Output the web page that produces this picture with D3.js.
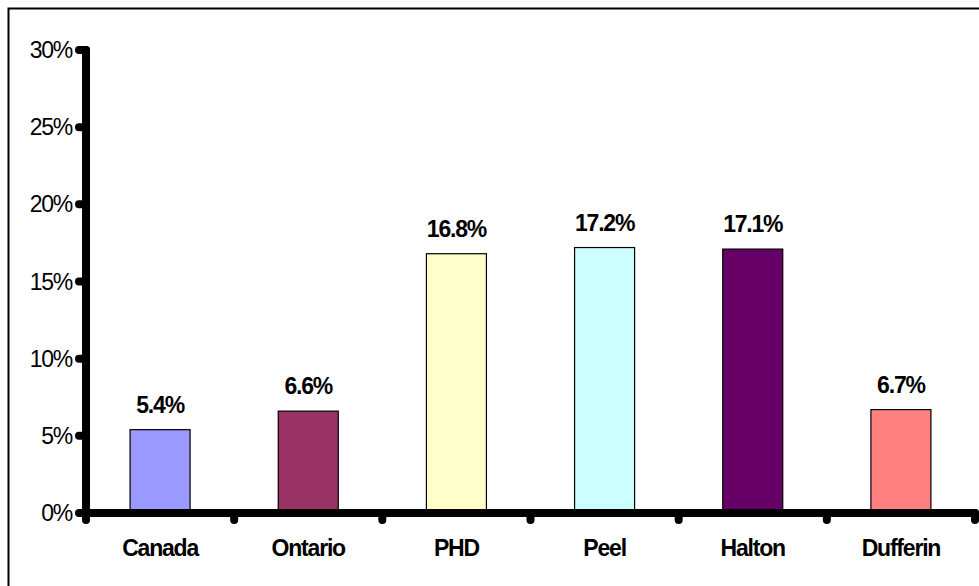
<!DOCTYPE html>
<html>
<head>
<meta charset="utf-8">
<script src="https://cdn.jsdelivr.net/npm/d3@7"></script>
<style>
  html, body { margin: 0; padding: 0; background: #fff; }
  svg { display: block; }
  text { font-family: Arial, "Liberation Sans", sans-serif; }
</style>
</head>
<body>
<svg id="chart" width="979" height="586"></svg>
<script>
const categories = ["Canada", "Ontario", "PHD", "Peel", "Halton", "Dufferin"];
const values = [0.054, 0.066, 0.168, 0.172, 0.171, 0.067];
const valueLabels = ["5.4%", "6.6%", "16.8%", "17.2%", "17.1%", "6.7%"];
const colors = ["#9999FF", "#993366", "#FFFFCC", "#CCFFFF", "#660066", "#FF8080"];
const yTicks = [0, 0.05, 0.10, 0.15, 0.20, 0.25, 0.30];

const svg = d3.select("#chart");

// outer frame
svg.append("rect")
  .attr("x", 8.5).attr("y", 8.5)
  .attr("width", 1200).attr("height", 1200)
  .attr("fill", "none").attr("stroke", "#000").attr("stroke-width", 2);

const x = d3.scaleBand().domain(categories).range([86, 975]).paddingInner(0).paddingOuter(0);
const y = d3.scaleLinear().domain([0, 0.30]).range([513, 50]);
const bw = x.bandwidth();
const barW = bw * 0.405;

// bars
svg.append("g").selectAll("rect")
  .data(categories)
  .join("rect")
  .attr("x", (d) => x(d) + (bw - barW) / 2)
  .attr("y", (d, i) => y(values[i]))
  .attr("width", barW)
  .attr("height", (d, i) => y(0) - y(values[i]))
  .attr("fill", (d, i) => colors[i])
  .attr("stroke", "#000")
  .attr("stroke-width", 1.2);

// value labels
svg.append("g").selectAll("text")
  .data(categories)
  .join("text")
  .attr("x", (d) => x(d) + bw / 2)
  .attr("y", (d, i) => y(values[i]) - 17)
  .attr("text-anchor", "middle")
  .attr("font-size", 23)
  .attr("font-weight", "bold")
  .attr("letter-spacing", -1.2)
  .text((d, i) => valueLabels[i]);

// y axis line
const axisX = 86;
svg.append("line")
  .attr("x1", axisX).attr("x2", axisX)
  .attr("y1", y(0.30)).attr("y2", y(0))
  .attr("stroke", "#000").attr("stroke-width", 8).attr("stroke-linecap", "round");

// y ticks (dots)
svg.append("g").selectAll("line")
  .data(yTicks)
  .join("line")
  .attr("x1", axisX).attr("x2", axisX - 7)
  .attr("y1", (d) => y(d)).attr("y2", (d) => y(d))
  .attr("stroke", "#000").attr("stroke-width", 8).attr("stroke-linecap", "round");

// y tick labels
const fmt = d3.format(".0%");
svg.append("g").selectAll("text")
  .data(yTicks)
  .join("text")
  .attr("x", 72)
  .attr("y", (d) => y(d) + 8)
  .attr("text-anchor", "end")
  .attr("font-size", 23)
  .attr("letter-spacing", -1.3)
  .text((d) => fmt(d));

// x axis line
svg.append("line")
  .attr("x1", axisX).attr("x2", x.range()[1])
  .attr("y1", y(0)).attr("y2", y(0))
  .attr("stroke", "#000").attr("stroke-width", 8).attr("stroke-linecap", "round");

// x ticks at band boundaries
const boundaries = categories.map((c) => x(c)).concat([x.range()[1]]);
svg.append("g").selectAll("line")
  .data(boundaries)
  .join("line")
  .attr("x1", (d) => d).attr("x2", (d) => d)
  .attr("y1", y(0)).attr("y2", y(0) + 7)
  .attr("stroke", "#000").attr("stroke-width", 8).attr("stroke-linecap", "round");

// category labels
svg.append("g").selectAll("text")
  .data(categories)
  .join("text")
  .attr("x", (d) => x(d) + bw / 2)
  .attr("y", 556)
  .attr("text-anchor", "middle")
  .attr("font-size", 23)
  .attr("font-weight", "bold")
  .attr("letter-spacing", -1.2)
  .text((d) => d);
</script>
</body>
</html>
